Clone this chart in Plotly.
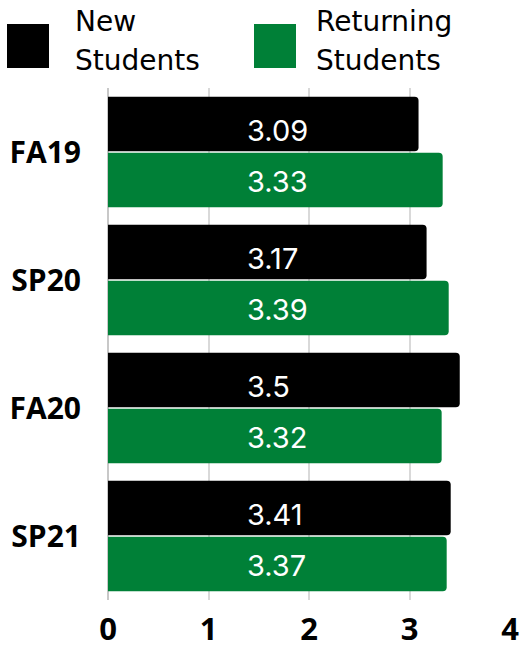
import plotly.graph_objects as go

terms = ["FA19", "SP20", "FA20", "SP21"]
new_students = [3.09, 3.17, 3.5, 3.41]
returning_students = [3.33, 3.39, 3.32, 3.37]
x_ticks = [0, 1, 2, 3, 4]
series_names = ["New Students", "Returning Students"]
legend_lines = [["New", "Students"], ["Returning", "Students"]]
colors = ["#000000", "#008037"]

W, H = 521, 647
L, T = 108, 88
R = W - 510
B = H - 600
PW, PH = W - L - R, H - T - B

BARGAP, GROUPGAP = 0.125, 0.03
half = (1 - BARGAP) / 4  # offset of each bar centre from category centre
LABEL_X = 1.365           # data x where value labels start
label_shift = [-6, -1]

fig = go.Figure()
for name, vals, col in zip(series_names, [new_students, returning_students], colors):
    fig.add_trace(go.Bar(
        y=terms, x=vals, orientation="h", name=name,
        marker=dict(color=col, line=dict(width=0)),
        showlegend=False, hoverinfo="skip",
    ))

for k, vals in enumerate([new_students, returning_students]):
    off = -half if k == 0 else half
    for i, v in enumerate(vals):
        fig.add_annotation(x=LABEL_X, y=i + off, xref="x", yref="y",
                           text=str(v), showarrow=False, xanchor="left",
                           yanchor="middle", yshift=label_shift[k],
                           font=dict(color="white", size=29, family="Inter"))

fig.update_layout(
    width=W, height=H,
    margin=dict(l=L, r=R, t=T, b=B, autoexpand=False),
    paper_bgcolor="white", plot_bgcolor="white",
    barmode="group", bargap=BARGAP, bargroupgap=GROUPGAP,
    barcornerradius=4,
    xaxis=dict(range=[0, 4], tickvals=x_ticks, showgrid=True, gridcolor="#d9d9d9",
               gridwidth=1.5, zeroline=True, zerolinecolor="#c8c8c8", zerolinewidth=1.5,
               tickfont=dict(size=31, family="Open Sans", color="black", weight="bold"),
               ticks="outside", ticklen=2, tickcolor="rgba(0,0,0,0)", automargin=False),
    yaxis=dict(autorange="reversed", showgrid=False, automargin=False,
               tickfont=dict(size=30, family="Open Sans", color="black", weight="bold"),
               ticks="outside", ticklen=20, tickcolor="rgba(0,0,0,0)"),
)

# manual legend (paper coordinates, from screen pixels)
def px_x(px):
    return (px - L) / PW

def px_y(py):
    return (H - B - py) / PH

for sx, tx, lines, col in [(7, 75, legend_lines[0], colors[0]), (254, 316, legend_lines[1], colors[1])]:
    fig.add_shape(type="rect", xref="paper", yref="paper",
                  x0=px_x(sx), x1=px_x(sx + 42),
                  y0=px_y(68), y1=px_y(24),
                  fillcolor=col, line=dict(width=0))
    for line_text, cy in zip(lines, [21, 60]):
        fig.add_annotation(xref="paper", yref="paper", x=px_x(tx - 2),
                           y=px_y(cy), xanchor="left", yanchor="middle",
                           text=line_text, showarrow=False, align="left",
                           font=dict(size=28, family="DejaVu Sans", color="black"))

fig.write_html("out.html", config={"displayModeBar": False},
               post_script="document.body.style.margin='0';document.body.style.overflow='hidden';")
